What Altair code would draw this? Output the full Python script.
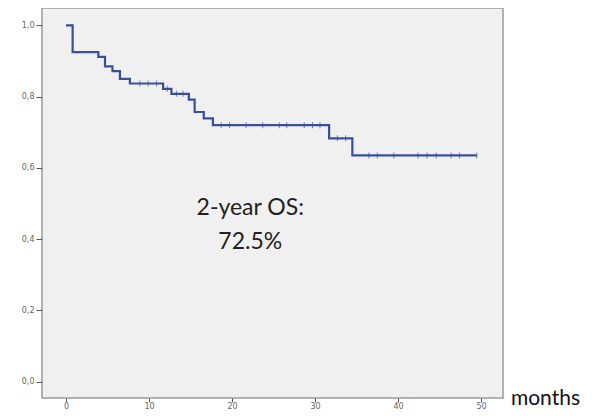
import altair as alt
import pandas as pd

# Kaplan-Meier step points (months, survival)
event_times = [0, 0.8, 3.9, 4.7, 5.6, 6.5, 7.7, 11.7, 12.7, 14.8, 15.5, 16.6, 17.7, 31.7, 34.5, 49.5]
survival = [1.0, 0.925, 0.912, 0.885, 0.872, 0.85, 0.837, 0.822, 0.808, 0.792, 0.757, 0.739, 0.72, 0.683, 0.635, 0.635]

# censored observations (months)
censor_times = [8.9, 9.9, 10.9, 12.2, 13.3, 14.1, 18.7, 19.7, 21.7, 23.7, 25.7, 26.6,
                28.7, 29.7, 30.6, 32.7, 33.7, 36.5, 37.5, 39.5, 42.4, 43.5, 44.6,
                46.4, 47.4, 49.5]

x_ticks = [0, 10, 20, 30, 40, 50]
y_ticks = [0.0, 0.2, 0.4, 0.6, 0.8, 1.0]

note_lines = ["2-year OS:", "72.5%"]
note_x = [22.2, 22.2]
note_y = [0.488, 0.392]

axis_label = "months"

curve = pd.DataFrame({"t": event_times, "s": survival})


def surv_at(t):
    s = survival[0]
    for et, sv in zip(event_times, survival):
        if et <= t:
            s = sv
    return s


cens = pd.DataFrame({"t": censor_times, "s": [surv_at(t) for t in censor_times]})
notes = pd.DataFrame({"t": note_x, "s": note_y, "label": note_lines})
months_df = pd.DataFrame({"t": [53.6], "s": [-0.066], "label": [axis_label]})

xs = alt.Scale(domain=[-2.89, 52.65], nice=False, zero=False)
ys = alt.Scale(domain=[-0.046, 1.049], nice=False, zero=False)

color = "#3b4e9e"

xenc = alt.X("t:Q", scale=xs, axis=alt.Axis(values=x_ticks, title=None, grid=False, domain=False,
                                             tickSize=4, labelPadding=0, format="d"))
yenc = alt.Y("s:Q", scale=ys, axis=alt.Axis(values=y_ticks, title=None, grid=False, domain=False,
                                             tickSize=6, labelPadding=2,
                                             labelExpr="replace(format(datum.value, '.1f'), '.', ',')"))

line = alt.Chart(curve).mark_line(interpolate="step-after", color=color, strokeWidth=2.2).encode(
    x=xenc, y=yenc
)

ticks = alt.Chart(cens).mark_tick(orient="vertical", color=color, size=6, thickness=1).encode(
    x="t:Q", y="s:Q"
)

text = alt.Chart(notes).mark_text(font="Lato", fontSize=23, color="#222", align="center",
                                  baseline="middle").encode(
    x="t:Q", y="s:Q", text="label:N"
)

months = alt.Chart(months_df).mark_text(font="Lato", fontSize=21, color="#111", align="left",
                                        baseline="alphabetic", clip=False).encode(
    x="t:Q", y="s:Q", text="label:N"
)

chart = alt.layer(line, ticks, text, months).properties(
    width=461, height=390,
    autosize=alt.AutoSizeParams(type="none"),
    padding={"left": 34, "top": 0, "right": 86, "bottom": 13},
    background="white",
).configure_view(
    fill="#f0f0f0", stroke="#9a9a9a", strokeWidth=1.5
).configure_axis(
    labelFont="DejaVu Sans", labelFontSize=8, labelColor="#666", tickColor="#555", tickWidth=1
)

chart.save("out.html", embed_options={"renderer": "svg", "actions": False})
